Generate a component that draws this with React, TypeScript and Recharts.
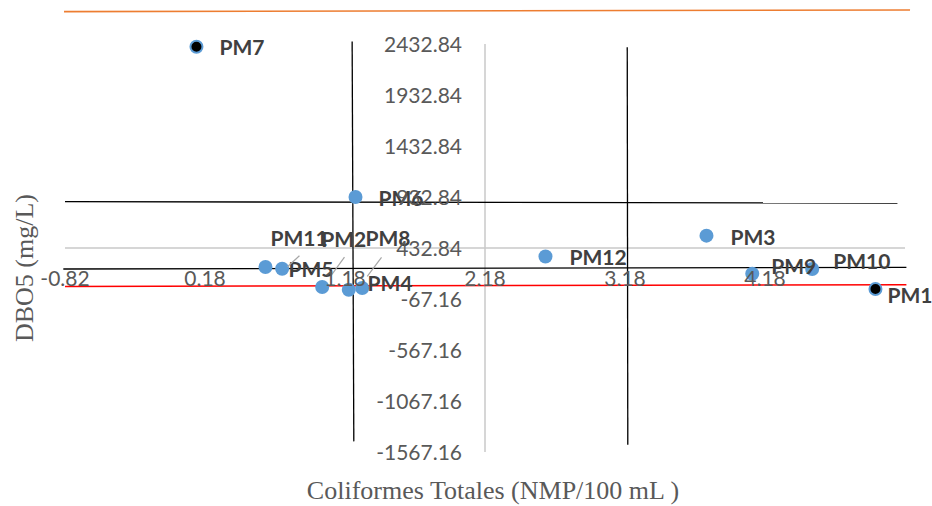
import React from 'react';
import { ScatterChart, Scatter, XAxis, YAxis, ReferenceLine } from 'recharts';

// ---- data ----
const names = ['PM1', 'PM2', 'PM3', 'PM4', 'PM5', 'PM6', 'PM7', 'PM8', 'PM9', 'PM10', 'PM11', 'PM12'];
const coliformes = [4.969, 1.017, 3.762, 1.207, 0.612, 1.255, 0.119, 1.303, 4.089, 4.517, 0.731, 2.612];
const dbo5 = [31, 50, 554, 24, 246, 933, 2406, 41, 181, 227, 230, 350];

const xTicks = [-0.82, 0.18, 1.18, 2.18, 3.18, 4.18];
const yTicks = [2432.84, 1932.84, 1432.84, 932.84, 432.84, -67.16, -567.16, -1067.16, -1567.16];
const X_DOMAIN: [number, number] = [-0.82, 5.18];
const Y_DOMAIN: [number, number] = [-1567.16, 2432.84];
const X_CROSS = 2.18;
const Y_CROSS = 432.84;

// extra lines (x, y in data units)
const vLine1 = [{ x: 1.231, y: 2458 }, { x: 1.243, y: -1463 }];
const vLine2 = [{ x: 3.196, y: 2400 }, { x: 3.2, y: -1495 }];
const hLine1 = [{ x: -0.82, y: 887 }, { x: 5.126, y: 874 }];
const hLine2 = [{ x: -0.832, y: 227 }, { x: 5.19, y: 243 }];
const redLine = [{ x: -0.82, y: 56 }, { x: 5.19, y: 73 }];
const orangeLine = [{ x: -0.827, y: 2750 }, { x: 5.216, y: 2766 }];

const data = names.map((n, i) => ({ name: n, x: coliformes[i], y: dbo5[i] }));

// ---- layout / style ----
const W = 924;
const H = 498;
const M = { top: 36, right: 27, bottom: 0, left: 0 };
const Y_AXIS_W = 57;
const X_AXIS_H = 54;
const PLOT_W = W - M.left - M.right - Y_AXIS_W;
const PLOT_H = H - M.top - M.bottom - X_AXIS_H;
const X_CROSS_PX = M.left + Y_AXIS_W + ((X_CROSS - X_DOMAIN[0]) / (X_DOMAIN[1] - X_DOMAIN[0])) * PLOT_W;
const Y_CROSS_PX = M.top + ((Y_DOMAIN[1] - Y_CROSS) / (Y_DOMAIN[1] - Y_DOMAIN[0])) * PLOT_H;

const BLUE = '#5B9BD5';
const blackPoints = new Set(['PM1', 'PM7']);
const labelPos: Record<string, { dx: number; dy: number }> = {
  PM1: { dx: 12, dy: 7 },
  PM2: { dx: -1, dy: -48 },
  PM3: { dx: 24, dy: 2 },
  PM4: { dx: 18.7, dy: -6 },
  PM5: { dx: 23, dy: 2 },
  PM6: { dx: 23, dy: 1.7 },
  PM7: { dx: 23, dy: 1.2 },
  PM8: { dx: 3.3, dy: -49 },
  PM9: { dx: 19, dy: -7.3 },
  PM10: { dx: 21, dy: -7.6 },
  PM11: { dx: -11.7, dy: -30 },
  PM12: { dx: 24, dy: 0.8 },
};
const leaders: Record<string, number[]> = {
  PM11: [5.3, -2, 17.3, -13],
  PM2: [8.3, -10.6, 22.3, -30],
  PM8: [5, -11.6, 19.3, -30.6],
};

const tickStyle = { fontFamily: 'Lato, Carlito, Calibri, sans-serif', fontSize: 21, fill: '#595959' };

const XTick = (props: any) => {
  const { x, payload } = props;
  return (
    <text x={x} y={Y_CROSS_PX + 37.7} textAnchor="middle" {...tickStyle}>
      {Number(payload.value).toFixed(2)}
    </text>
  );
};

const YTick = (props: any) => {
  const { y, payload } = props;
  return (
    <text x={X_CROSS_PX - 23} y={y + 7.5} textAnchor="end" {...tickStyle}>
      {Number(payload.value).toFixed(2)}
    </text>
  );
};

const PointShape = (props: any) => {
  const { cx, cy, payload } = props;
  if (blackPoints.has(payload.name)) {
    return <circle cx={cx} cy={cy} r={6} fill="#000" stroke={BLUE} strokeWidth={2} />;
  }
  return <circle cx={cx} cy={cy} r={7} fill={BLUE} />;
};

const LabelShape = (props: any) => {
  const { cx, cy, payload } = props;
  const p = labelPos[payload.name] || { dx: 23, dy: 1.5 };
  const l = leaders[payload.name];
  return (
    <g>
      {l && (
        <line x1={cx + l[0]} y1={cy + l[1]} x2={cx + l[2]} y2={cy + l[3]} stroke="#A6A6A6" strokeWidth={1.2} />
      )}
      <text
        x={cx + p.dx}
        y={cy + p.dy + 7.5}
        fontFamily="Lato, Carlito, Calibri, sans-serif"
        fontWeight="bold"
        fontSize={21}
        fill="#404040"
      >
        {payload.name}
      </text>
    </g>
  );
};

export default function App() {
  return (
    <div style={{ position: 'relative', width: W, height: H, padding: '8px 0 0 8px', overflow: 'hidden' }}>
      <style>
        {'body { margin: 0; overflow: hidden; } .recharts-surface { overflow: visible; } .recharts-wrapper { overflow: visible; }'}
      </style>
      <ScatterChart width={W} height={H} margin={M}>
        <XAxis
          type="number"
          dataKey="x"
          domain={X_DOMAIN}
          ticks={xTicks}
          interval={0}
          height={X_AXIS_H}
          axisLine={false}
          tickLine={false}
          tick={<XTick />}
        />
        <YAxis
          type="number"
          dataKey="y"
          domain={Y_DOMAIN}
          ticks={yTicks}
          interval={0}
          width={Y_AXIS_W}
          axisLine={false}
          tickLine={false}
          tick={<YTick />}
        />
        <ReferenceLine y={Y_CROSS} stroke="#C8C8C8" strokeWidth={1.5} />
        <ReferenceLine x={X_CROSS} stroke="#C8C8C8" strokeWidth={1.5} />
        <ReferenceLine segment={orangeLine} stroke="#ED7D31" strokeWidth={1.6} ifOverflow="visible" />
        <ReferenceLine segment={vLine1} stroke="#000" strokeWidth={1.3} ifOverflow="visible" />
        <ReferenceLine segment={vLine2} stroke="#000" strokeWidth={1.3} ifOverflow="visible" />
        <ReferenceLine segment={hLine1} stroke="#000" strokeWidth={1.3} ifOverflow="visible" />
        <ReferenceLine segment={hLine2} stroke="#000" strokeWidth={1.3} ifOverflow="visible" />
        <ReferenceLine segment={redLine} stroke="#FF0000" strokeWidth={1.5} ifOverflow="visible" />
        <Scatter data={data} isAnimationActive={false} shape={<PointShape />} />
        <Scatter data={data} isAnimationActive={false} shape={<LabelShape />} />
      </ScatterChart>
      <div
        style={{
          position: 'absolute',
          left: 493,
          top: 478,
          transform: 'translateX(-50%)',
          whiteSpace: 'nowrap',
          fontFamily: '"Liberation Serif", "Times New Roman", serif',
          fontSize: 26,
          lineHeight: '26px',
          color: '#595959',
        }}
      >
        Coliformes Totales (NMP/100 mL )
      </div>
      <div
        style={{
          position: 'absolute',
          left: 24.5,
          top: 268,
          transform: 'translate(-50%, -50%) rotate(-90deg)',
          whiteSpace: 'nowrap',
          fontFamily: '"Liberation Serif", "Times New Roman", serif',
          fontSize: 26,
          lineHeight: '26px',
          color: '#595959',
        }}
      >
        DBO5 (mg/L)
      </div>
    </div>
  );
}
